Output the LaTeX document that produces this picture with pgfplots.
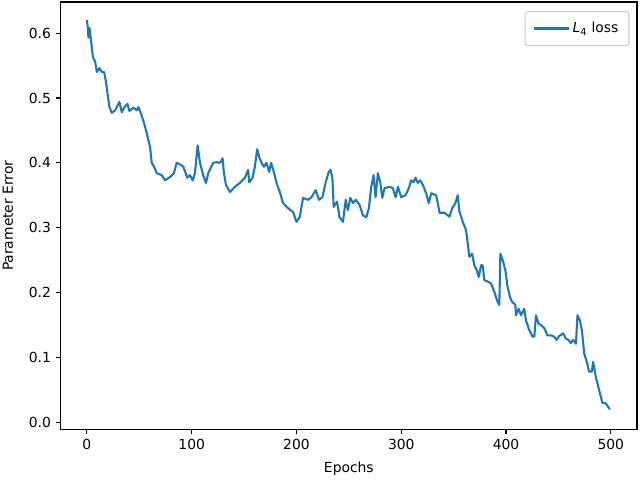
\documentclass[border=0pt]{standalone}
\usepackage{fontspec}
\setmainfont{DejaVu Sans}
\usepackage{pgfplots}
\pgfplotsset{compat=1.18}
\definecolor{tabblue}{HTML}{1F77B4}
\definecolor{legendgray}{HTML}{CCCCCC}

\begin{document}
\fontsize{10.4}{12.5}\selectfont
\begin{tikzpicture}
\begin{axis}[
    scale only axis,
    width=432pt, height=320.5pt,
    xmin=-25, xmax=525,
    ymin=-0.0113, ymax=0.648,
    xtick={0,100,...,500},
    ytick={0,0.1,...,0.6},
    yticklabel style={/pgf/number format/.cd, fixed, fixed zerofill, precision=1},
    /pgf/number format/assume math mode=true,
    tick align=outside,
    tick pos=left,
    major tick length=3.65pt,
    axis line style={line width=0.8pt},
    every tick/.style={black, line width=0.8pt},
    tick label style={font=\fontsize{10.4}{12.5}\selectfont},
    label style={font=\fontsize{10.4}{12.5}\selectfont},
    xlabel={Epochs},
    ylabel={Parameter Error},
    every axis x label/.style={at={(axis description cs:0.5,-0.0906)}, anchor=center},
    every axis y label/.style={at={(axis description cs:-0.0915,0.5)}, rotate=90, anchor=center},
    legend style={at={(axis description cs:0.987,0.979)}, anchor=north east,
        draw=legendgray, rounded corners=2pt, line width=0.8pt,
        font=\fontsize{10.4}{12.5}\selectfont, inner xsep=6pt, inner ysep=6pt},
    legend cell align=left,
    legend image code/.code={\draw[#1] (0pt,0pt) -- (26pt,0pt);},
]
\addplot[color=tabblue, line width=1.56pt, line join=round] coordinates {
(0,0.620)(0.6,0.613)(1.5,0.593)(2.5,0.608)(3.8,0.591)(5.7,0.563)(7.9,0.556)
(9.5,0.540)(12,0.546)(14.3,0.540)(16.5,0.540)(18.4,0.523)(19.6,0.508)
(21.5,0.486)(23.8,0.477)(27,0.481)(31,0.494)(33.3,0.478)(35.5,0.485)
(38.7,0.491)(40.6,0.480)(44.4,0.485)(47.6,0.481)(49.1,0.486)(51.4,0.477)
(54.6,0.461)(57.1,0.446)(60.3,0.424)(61.9,0.400)(64.1,0.394)(66.7,0.384)
(71.4,0.381)(74.6,0.373)(79.3,0.378)(83.1,0.384)(85.7,0.400)(89.5,0.397)
(92,0.394)(95.8,0.377)(98.4,0.381)(101,0.373)(103.1,0.384)(105.7,0.427)
(107.9,0.400)(111,0.381)(113.6,0.369)(115.8,0.384)(118.1,0.392)(120.6,0.400)
(123.8,0.401)(127,0.400)(129.5,0.407)(130.8,0.384)(132.7,0.366)(136.5,0.355)
(141.2,0.363)(146,0.369)(150.8,0.377)(153.9,0.389)(154.9,0.370)(158.1,0.377)
(160.3,0.394)(162.5,0.421)(164.4,0.409)(166.7,0.400)(168.9,0.394)(171.4,0.400)
(173.9,0.386)(175.8,0.400)(178.4,0.386)(181,0.369)(184.1,0.355)(187.2,0.338)
(192,0.330)(196.8,0.324)(200,0.309)(203.1,0.316)(206.3,0.346)(211,0.343)
(214.3,0.347)(218.4,0.358)(221.5,0.343)(224.8,0.347)(227.9,0.370)(230.8,0.386)
(232.4,0.389)(234.3,0.377)(235.5,0.332)(238.7,0.340)(241.2,0.316)(244.4,0.309)
(247,0.343)(249.1,0.327)(251.4,0.346)(253.9,0.338)(256.5,0.343)(260.3,0.335)
(263.4,0.319)(266.7,0.316)(269.1,0.330)(271.4,0.363)(273.6,0.381)(275.5,0.347)
(277.7,0.384)(280,0.370)(281.9,0.346)(284.1,0.361)(288.9,0.363)(292,0.361)
(294.6,0.347)(296.8,0.363)(300,0.347)(304.1,0.350)(307.2,0.361)(309.5,0.373)
(311.7,0.370)(313.6,0.377)(315.8,0.369)(318.1,0.373)(320.6,0.366)(323.8,0.353)
(326.3,0.338)(328.6,0.353)(333.3,0.350)(334.9,0.338)(336.5,0.323)(341.2,0.323)
(346,0.317)(348.6,0.330)(351.7,0.338)(353.9,0.350)(355.5,0.325)(358.7,0.309)
(361.9,0.296)(365,0.255)(367.6,0.260)(369.8,0.242)(372,0.235)(373.9,0.224)
(376.2,0.242)(377.7,0.242)(379.3,0.219)(382.5,0.217)(385.7,0.214)(388.9,0.201)
(391.4,0.188)(393.6,0.181)(394.6,0.260)(396.8,0.250)(399.3,0.235)(401.5,0.209)
(403.8,0.193)(405.7,0.186)(408.9,0.181)(409.5,0.165)(412,0.175)(414.3,0.165)
(417.4,0.175)(419,0.157)(422.2,0.142)(425.3,0.132)(427,0.132)(428.6,0.165)
(431,0.152)(433.3,0.150)(436.5,0.145)(439.6,0.134)(442.9,0.134)(446,0.132)
(448.2,0.127)(450.8,0.133)(454.6,0.137)(457.1,0.129)(459.6,0.127)(461.9,0.122)
(464.1,0.127)(466.7,0.121)(468.2,0.165)(470.5,0.157)(472.4,0.142)(474.6,0.106)
(477.1,0.093)(479.3,0.078)(481.9,0.078)(483.1,0.093)(485.7,0.070)(488.9,0.049)
(492,0.030)(495.2,0.029)(499,0.020)
};
\addlegendentry{\textit{L}\textsubscript{4} loss}
\end{axis}
\pgfresetboundingbox
\useasboundingbox ([xshift=-45.5pt,yshift=-37.3pt]current axis.south west)
    rectangle ([xshift=2.25pt,yshift=1.5pt]current axis.north east);
\end{tikzpicture}
\end{document}
